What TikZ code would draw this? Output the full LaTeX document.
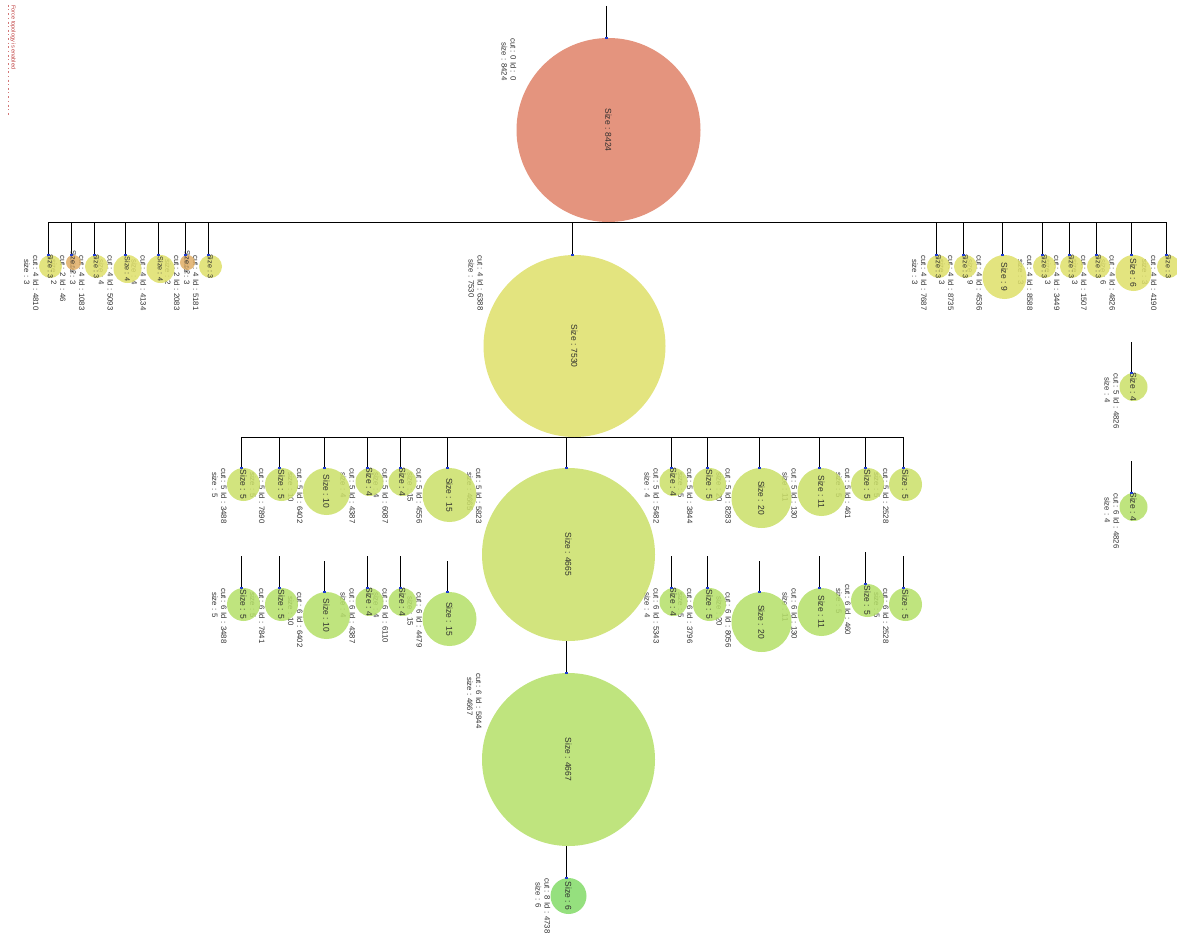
\documentclass[tikz,border=0pt]{standalone}
\usepackage{fontspec}
\setmainfont{Liberation Sans}
\pgfdeclarelayer{bg}
\pgfdeclarelayer{fg}
\pgfsetlayers{bg,main,fg}
\definecolor{labc}{RGB}{50,50,50}
\definecolor{szc}{RGB}{45,45,45}
\definecolor{cRoot}{RGB}{223,129,103}
\definecolor{cYel}{RGB}{222,223,104}
\definecolor{cOra}{RGB}{223,173,101}
\definecolor{cLtwo}{RGB}{202,223,103}
\definecolor{cLthree}{RGB}{180,223,103}
\definecolor{cBot}{RGB}{130,218,103}
\definecolor{dotc}{RGB}{30,60,210}
\definecolor{ftc}{RGB}{190,60,60}
\newcommand\fsS{\fontsize{7.2}{8}\selectfont}
\newcommand\fsB{\fontsize{8.5}{10}\selectfont}
\tikzset{
  lab/.style={font=\fontsize{7.8}{9}\selectfont, text=labc, rotate=-90, anchor=north west, align=left, inner sep=0pt},
  cn/.style={circle, inner sep=0pt, outer sep=0pt, fill opacity=.85, draw=none},
  sz/.style={rotate=-90, text=szc, inner sep=0pt},
  conn/.style={draw=black, line width=0.9pt},
}
% name, dot x, dot y, radius, colour, cut, id, size, size font
\newcommand\tnode[9]{%
  \coordinate (#1t) at (#2,#3);
  \begin{pgfonlayer}{bg}
    \node[lab] (#1l) at (#2+2.5-#4,#3) {cut : #6 Id : #7\\\hspace*{4pt}size : #8};
  \end{pgfonlayer}
  \node[cn, minimum size=#4*2pt, fill=#5] (#1) at (#2+2.5,#3+#4) {};
  \begin{pgfonlayer}{fg}
    \node[sz, font=#9] (#1s) at (#1) {Size : #8};
    \fill[dotc] (#2-1.5,#3-1.2) rectangle (#2+1.5,#3+1.2);
  \end{pgfonlayer}
}
\begin{document}
\begin{tikzpicture}[x=1pt,y=-1pt]
\useasboundingbox (0,0) rectangle (1177,939);

% top-left note
\node[rotate=-90, anchor=north west, inner sep=0pt, text=ftc, font=\fontsize{5.6}{6.5}\selectfont] (note) at (16,5) {Force topology is enabled};
\coordinate (dA) at (8,5);
\coordinate (dB) at (8,115);
\draw[ftc!70, line width=0.5pt, dash pattern=on 2pt off 2.5pt on 0.8pt off 3pt] (dA) -- (dB);

% root
\tnode{r0}{606}{38}{92}{cRoot}{0}{0}{8424}{\fsB}
\coordinate (r0s) at (606,6);

% level 1 left
\tnode{a4810}{48}{255}{11.5}{cYel}{4}{4810}{3}{\fsS}
\tnode{a46}{71}{255}{7.5}{cOra}{2}{46}{2}{\fsS}
\tnode{a1083}{94}{255}{11.5}{cYel}{4}{1083}{3}{\fsS}
\tnode{a5093}{125}{255}{14}{cYel}{4}{5093}{4}{\fsS}
\tnode{a4134}{158}{255}{14}{cYel}{4}{4134}{4}{\fsS}
\tnode{a2083}{185}{255}{7.5}{cOra}{2}{2083}{2}{\fsS}
\tnode{a5181}{208}{255}{11.5}{cYel}{4}{5181}{3}{\fsS}
% level 1 middle
\tnode{a6388}{572}{255}{91}{cYel}{4}{6388}{7530}{\fsB}
% level 1 right
\tnode{a7687}{936}{255}{11.5}{cYel}{4}{7687}{3}{\fsS}
\tnode{a8735}{963}{255}{11.5}{cYel}{4}{8735}{3}{\fsS}
\tnode{a4536}{1002}{255}{22}{cYel}{4}{4536}{9}{\fsB}
\tnode{a8588}{1042}{255}{11.5}{cYel}{4}{8588}{3}{\fsS}
\tnode{a3449}{1069}{255}{11.5}{cYel}{4}{3449}{3}{\fsS}
\tnode{a1507}{1096}{255}{11.5}{cYel}{4}{1507}{3}{\fsS}
\tnode{a4826}{1131}{255}{18}{cYel}{4}{4826}{6}{\fsB}
\tnode{a4190}{1166}{255}{11.5}{cYel}{4}{4190}{3}{\fsS}

% level 2
\tnode{b3488}{241}{468}{16.5}{cLtwo}{5}{3488}{5}{\fsB}
\tnode{b7890}{279}{468}{16.5}{cLtwo}{5}{7890}{5}{\fsB}
\tnode{b6402}{324}{468}{23.5}{cLtwo}{5}{6402}{10}{\fsB}
\tnode{b4387}{367}{468}{14}{cLtwo}{5}{4387}{4}{\fsB}
\tnode{b6087}{400}{468}{14}{cLtwo}{5}{6087}{4}{\fsB}
\tnode{b4556}{447}{468}{27}{cLtwo}{5}{4556}{15}{\fsB}
\tnode{b5823}{566}{468}{86.5}{cLtwo}{5}{5823}{4665}{\fsB}
\tnode{b5482}{671}{468}{14}{cLtwo}{5}{5482}{4}{\fsB}
\tnode{b3844}{707}{468}{16.5}{cLtwo}{5}{3844}{5}{\fsB}
\tnode{b8283}{759}{468}{30}{cLtwo}{5}{8283}{20}{\fsB}
\tnode{b130}{819}{468}{24}{cLtwo}{5}{130}{11}{\fsB}
\tnode{b461}{865}{468}{16.5}{cLtwo}{5}{461}{5}{\fsB}
\tnode{b2528}{903}{468}{16.5}{cLtwo}{5}{2528}{5}{\fsB}

% level 3
\tnode{c3488}{241}{588}{16.5}{cLthree}{6}{3488}{5}{\fsB}
\tnode{c7841}{279}{588}{16.5}{cLthree}{6}{7841}{5}{\fsB}
\tnode{c6402}{324}{592}{23.5}{cLthree}{6}{6402}{10}{\fsB}
\tnode{c4387}{367}{588}{14}{cLthree}{6}{4387}{4}{\fsB}
\tnode{c6110}{400}{588}{14}{cLthree}{6}{6110}{4}{\fsB}
\tnode{c4479}{447}{592}{27}{cLthree}{6}{4479}{15}{\fsB}
\tnode{c5844}{566}{673}{86.5}{cLthree}{6}{5844}{4667}{\fsB}
\tnode{c5343}{671}{588}{14}{cLthree}{6}{5343}{4}{\fsB}
\tnode{c3796}{707}{588}{16.5}{cLthree}{6}{3796}{5}{\fsB}
\tnode{c8056}{759}{592}{30}{cLthree}{6}{8056}{20}{\fsB}
\tnode{c130}{819}{588}{24}{cLthree}{6}{130}{11}{\fsB}
\tnode{c460}{865}{584}{16.5}{cLthree}{6}{460}{5}{\fsB}
\tnode{c2528}{903}{588}{16.5}{cLthree}{6}{2528}{5}{\fsB}

% right column
\tnode{d4826}{1131}{373}{14}{cLtwo}{5}{4826}{4}{\fsB}
\tnode{e4826}{1131}{493}{14}{cLthree}{6}{4826}{4}{\fsB}

% bottom
\tnode{f4738}{566}{878}{18}{cBot}{8}{4738}{6}{\fsB}

% stub ends
\coordinate (c3488s) at (241,556);
\coordinate (c7841s) at (279,556);
\coordinate (c6402s) at (324,561);
\coordinate (c4387s) at (367,556);
\coordinate (c6110s) at (400,556);
\coordinate (c4479s) at (447,561);
\coordinate (c5343s) at (671,556);
\coordinate (c3796s) at (707,556);
\coordinate (c8056s) at (759,561);
\coordinate (c130s) at (819,556);
\coordinate (c460s) at (865,552);
\coordinate (c2528s) at (903,556);
\coordinate (d4826s) at (1131,342);
\coordinate (e4826s) at (1131,461);

\begin{pgfonlayer}{bg}
  \draw[conn] (r0s) -- (r0t);
  \foreach \c in {a4810,a46,a1083,a5093,a4134,a2083,a5181,a6388,a7687,a8735,a4536,a8588,a3449,a1507,a4826,a4190}
    \draw[conn] (r0.south) -| (\c t);
  \foreach \c in {b3488,b7890,b6402,b4387,b6087,b4556,b5823,b5482,b3844,b8283,b130,b461,b2528}
    \draw[conn] (a6388.south) -| (\c t);
  \draw[conn] (c5844t |- b5823.south) -- (c5844t);
  \draw[conn] (f4738t |- c5844.south) -- (f4738t);
  \foreach \c in {c3488,c7841,c6402,c4387,c6110,c4479,c5343,c3796,c8056,c130,c460,c2528,d4826,e4826}
    \draw[conn] (\c s) -- (\c t);
\end{pgfonlayer}
\end{tikzpicture}
\end{document}
